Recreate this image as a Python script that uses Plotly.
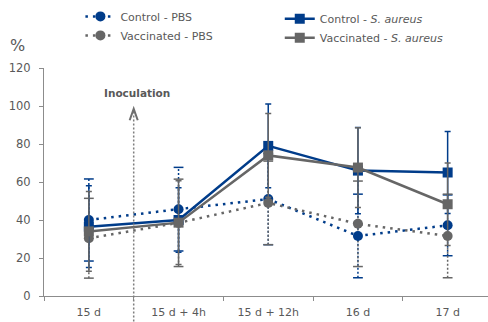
import plotly.graph_objects as go

categories = ["15 d", "15 d + 4h", "15 d + 12h", "16 d", "17 d"]

ctrl_pbs = [40, 45.7, 51, 31.6, 37.2]
ctrl_pbs_err = [21.6, 22, 24, 22, 16]
vacc_pbs = [30.4, 38.5, 49, 38, 31.6]
vacc_pbs_err = [21, 23, 22, 22.5, 22]
ctrl_sa = [36.5, 40, 79, 66, 65]
ctrl_sa_err = [21.5, 17, 22, 22.7, 21.6]
vacc_sa = [34, 38.6, 74, 67.6, 48.3]
vacc_sa_err = [21, 22, 22, 21, 21.7]

BLUE = "#003C8A"
GRAY = "#666666"
TXT = "#595959"
AX = "#8C8C8C"
FONT = "DejaVu Sans"

fig = go.Figure()


def dotted_err(vals, errs, color):
    xs, ys, cx, cy = [], [], [], []
    for c, v, e in zip(categories, vals, errs):
        xs += [c, c, None]
        ys += [v - e, v + e, None]
        cx += [c, c]
        cy += [v - e, v + e]
    fig.add_trace(go.Scatter(x=xs, y=ys, mode="lines", showlegend=False, hoverinfo="skip",
                             line=dict(color=color, width=1.5, dash="2px,2px")))
    fig.add_trace(go.Scatter(x=cx, y=cy, mode="markers", showlegend=False, hoverinfo="skip",
                             marker=dict(symbol="line-ew-open", size=7, color=color,
                                         line=dict(color=color, width=1.5))))


dotted_err(ctrl_pbs, ctrl_pbs_err, BLUE)
dotted_err(vacc_pbs, vacc_pbs_err, GRAY)

fig.add_trace(go.Scatter(x=categories, y=ctrl_pbs, name="Control - PBS", mode="lines+markers",
                         line=dict(color=BLUE, width=2.5, dash="2.5px,5px"),
                         marker=dict(symbol="circle", size=10, color=BLUE), legend="legend"))
fig.add_trace(go.Scatter(x=categories, y=vacc_pbs, name="Vaccinated - PBS", mode="lines+markers",
                         line=dict(color=GRAY, width=2.5, dash="2.5px,5px"),
                         marker=dict(symbol="circle", size=10, color=GRAY), legend="legend"))
fig.add_trace(go.Scatter(x=categories, y=ctrl_sa, name="Control - <i>S. aureus</i>", mode="lines+markers",
                         line=dict(color=BLUE, width=2.5),
                         marker=dict(symbol="square", size=10, color=BLUE),
                         error_y=dict(type="data", array=ctrl_sa_err, color=BLUE, thickness=1.5, width=3),
                         legend="legend2"))
fig.add_trace(go.Scatter(x=categories, y=vacc_sa, name="Vaccinated - <i>S. aureus</i>", mode="lines+markers",
                         line=dict(color=GRAY, width=2.5),
                         marker=dict(symbol="square", size=10, color=GRAY),
                         error_y=dict(type="data", array=vacc_sa_err, color=GRAY, thickness=1.5, width=3),
                         legend="legend2"))

# Inoculation marker (between first two categories)
fig.add_shape(type="line", xref="x", yref="paper", x0=0.5, x1=0.5, y0=-0.2, y1=0.81,
              line=dict(color="#7F7F7F", width=1.5, dash="2px,2px"))
fig.add_shape(type="path", xref="x", yref="y",
              path="M 0.455 92.5 L 0.5 98.5 L 0.545 92.5",
              line=dict(color="#6F6F6F", width=2))
fig.add_annotation(x=0.5, y=107, xref="x", yref="y", text="<b>Inoculation</b>", showarrow=False,
                   xshift=3, font=dict(size=10.5, color=TXT, family=FONT))
fig.add_annotation(x=(18 - 44) / 444, y=1 + (68 - 45) / 228, xref="paper", yref="paper", text="%",
                   showarrow=False, xanchor="center", yanchor="middle", xshift=-1,
                   font=dict(size=16, color=TXT, family=FONT))

fig.update_layout(
    width=488, height=322,
    margin=dict(l=44, r=0, t=68, b=26),
    paper_bgcolor="white", plot_bgcolor="white",
    font=dict(family=FONT, color=TXT, size=11),
    legend=dict(x=0.082, y=1.29, xanchor="left", yanchor="top", orientation="v",
                font=dict(size=11, color=TXT, family=FONT), bgcolor="rgba(0,0,0,0)", tracegroupgap=0),
    legend2=dict(x=0.531, y=1.28, xanchor="left", yanchor="top", orientation="v",
                 font=dict(size=11, color=TXT, family=FONT), bgcolor="rgba(0,0,0,0)", tracegroupgap=0),
    xaxis=dict(type="category", range=[-0.5, 4.45], showgrid=False, showline=True, linecolor=AX,
               linewidth=1, ticks="outside", tickson="boundaries", ticklen=4, tickcolor=AX,
               ticklabelstandoff=6,
               tickfont=dict(size=11, color=TXT, family=FONT)),
    yaxis=dict(range=[0, 120], dtick=20, showgrid=False, showline=True, linecolor=AX, linewidth=1,
               ticks="outside", ticklen=4, tickcolor=AX, zeroline=False, ticklabelstandoff=6,
               tickfont=dict(size=11.5, color=TXT, family=FONT)),
)

fig.write_html("out.html")
